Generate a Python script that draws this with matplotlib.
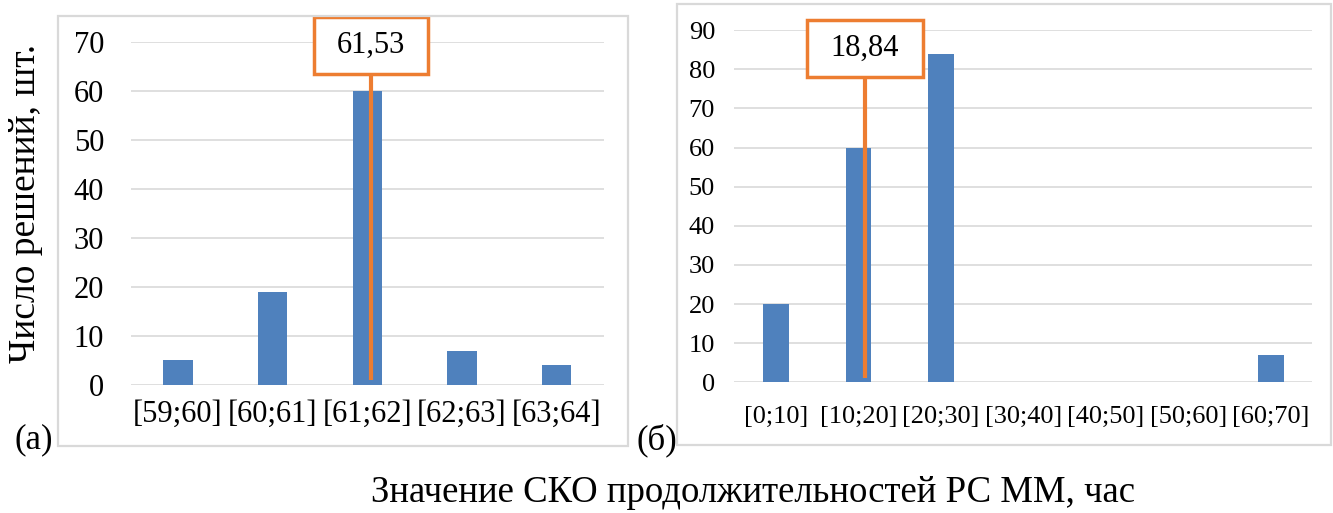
import matplotlib
matplotlib.use('Agg')
import matplotlib.pyplot as plt
from matplotlib.patches import Rectangle
import numpy as np

# --- data ---
bins_a = ['[59;60]', '[60;61]', '[61;62]', '[62;63]', '[63;64]']
edges_a = [59, 60, 61, 62, 63, 64]
counts_a = [5, 19, 60, 7, 4]
mean_a = 61.53

bins_b = ['[0;10]', '[10;20]', '[20;30]', '[30;40]', '[40;50]', '[50;60]', '[60;70]']
edges_b = [0, 10, 20, 30, 40, 50, 60, 70]
counts_b = [20, 60, 84, 0, 0, 0, 7]
mean_b = 18.84

yticks_a = [0, 10, 20, 30, 40, 50, 60, 70]
yticks_b = [0, 10, 20, 30, 40, 50, 60, 70, 80, 90]

BLUE = '#4F81BD'
ORANGE = '#ED7D31'
GRID = '#D9D9D9'
FRAME = '#D9D9D9'

plt.rcParams['font.family'] = ['Liberation Serif', 'DejaVu Serif']

fig = plt.figure(figsize=(13.33, 5.13), dpi=100)

# chart area borders
fig.patches.append(Rectangle((0.0435, 0.1312), 0.4276, 0.8382, transform=fig.transFigure,
                             fill=False, edgecolor=FRAME, linewidth=1.6, zorder=0))
fig.patches.append(Rectangle((0.5079, 0.1316), 0.4906, 0.8606, transform=fig.transFigure,
                             fill=False, edgecolor=FRAME, linewidth=1.6, zorder=0))

ax1 = fig.add_axes([0.0979, 0.2495, 0.3552, 0.6692])
ax2 = fig.add_axes([0.5510, 0.2548, 0.4336, 0.6862])


def draw_hist(ax, labels, counts, yticks, tick_fs, ytick_pad, xtick_pad):
    x = np.arange(len(labels))
    ax.bar(x, counts, width=0.31, color=BLUE, zorder=3)
    ax.set_xlim(-0.5, len(labels) - 0.5)
    ax.set_ylim(yticks[0], yticks[-1])
    ax.set_yticks(yticks)
    ax.set_xticks(x)
    ax.set_xticklabels(labels)
    ax.yaxis.grid(True, color=GRID, linewidth=1.2, zorder=0)
    ax.set_axisbelow(True)
    for s in ax.spines.values():
        s.set_visible(False)
    ax.tick_params(axis='both', length=0, labelsize=tick_fs)
    ax.tick_params(axis='y', pad=ytick_pad)
    ax.tick_params(axis='x', pad=xtick_pad)


def callout(ax, edges, mean, text, shift, half_w, y_low, y_high, fs):
    # orange marker inside the bin that holds the mean, with a boxed value on top
    idx = int(np.searchsorted(edges, mean, side='right')) - 1
    xm = idx + shift
    ax.plot([xm, xm], [1, y_low], color=ORANGE, linewidth=3, zorder=4,
            solid_capstyle='butt', clip_on=False)
    ax.add_patch(Rectangle((xm - half_w, y_low), 2 * half_w, y_high - y_low,
                           facecolor='white', edgecolor=ORANGE, linewidth=2.5,
                           zorder=5, clip_on=False))
    ax.text(xm, (y_low + y_high) / 2, text, ha='center', va='center',
            fontsize=fs, zorder=6, clip_on=False)


draw_hist(ax1, bins_a, counts_a, yticks_a, 22, 19, 11)
draw_hist(ax2, bins_b, counts_b, yticks_b, 19, 14, 17)

callout(ax1, edges_a, mean_a, '61,53', 0.04, 0.6, 63.4, 75.0, 22)
callout(ax2, edges_b, mean_b, '18,84', 0.08, 0.7, 78.0, 92.7, 22)

fig.text(0.0195, 0.604, 'Число решений, шт.', rotation=90, ha='center', va='center', fontsize=27)
fig.text(0.0255, 0.142, '(a)', ha='center', va='center', fontsize=25)
fig.text(0.493, 0.142, '(б)', ha='center', va='center', fontsize=25)
fig.text(0.565, 0.0214, 'Значение СКО продолжительностей РС ММ, час',
         ha='center', va='baseline', fontsize=26.5)

fig.savefig('out.png', dpi=100)
